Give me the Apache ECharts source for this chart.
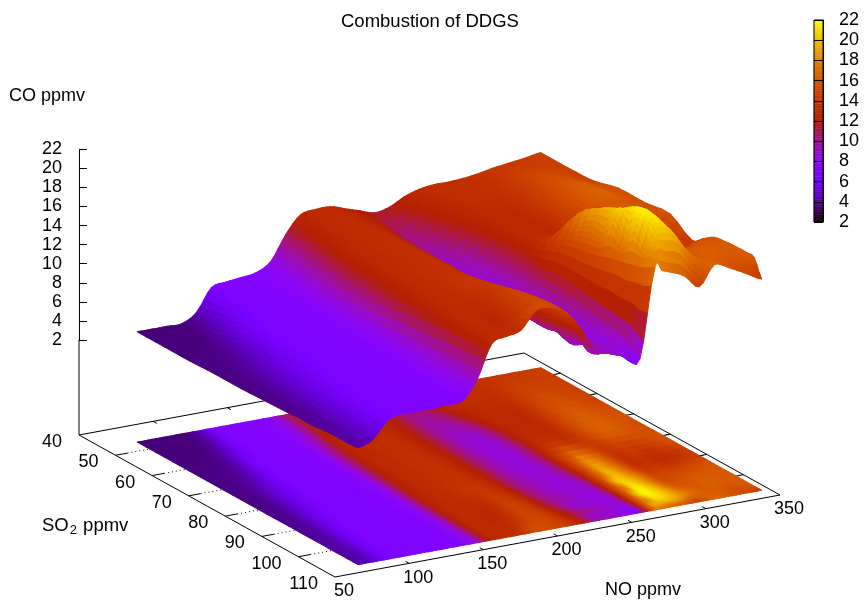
<!DOCTYPE html>
<html><head><meta charset="utf-8">
<style>html,body{margin:0;padding:0;background:#fff}#c{width:864px;height:602px}</style>
<script src="https://cdn.jsdelivr.net/npm/echarts@6/dist/echarts.min.js"></script>
</head><body><div id="c"></div>
<script>
const titleText = 'Combustion of DDGS';
const noTicks = [50,100,150,200,250,300,350];
const so2Ticks = [40,50,60,70,80,90,100,110];
const noValues = [73,83,93,103,113,123,133,143,153,163,173,183,193,203,213,223,233,243,253,263,273,278,283,293,303,313,323,333,345];
const so2Values = [46.6,54,61,68,75,82,88,91,94,97,100,103,105,107];
const co047 = [3.6,3.6,3.6,3.6,4.5,6.8,7.1,7.3,7.5,8.4,10.9,12.7,13,13,12.5,12,11.5,11.8,12.6,13.1,13.3,13.3,13.3,13.4,13.6,13.9,14.1,14.3,14.6];
const co054 = [3.6,3.6,3.6,3.9,5.2,6.9,7.1,7.2,7.5,8.8,11.4,12.8,13.1,13.1,12.6,11.8,10.6,10.5,11.6,12.7,13.2,13.3,13.3,13.3,13.8,14.6,14.8,14.7,14.6];
const co061 = [3.6,3.7,3.8,4.6,6.4,7,7.1,7.2,7.7,9.8,12.3,13,13.2,13.2,12.6,11.4,10,9.7,10.4,11.9,12.9,13,13,13,14,15.2,15.6,15.2,14.7];
const co068 = [3.7,3.8,4.2,5.3,6.8,7,7.1,7.2,7.9,10.6,12.6,13,13.3,13.3,12.6,11.2,9.6,9,9.2,11,12.8,12.9,13,12.9,14.4,15.8,16.3,15.8,15.4];
const co075 = [3.7,3.9,4.8,6,6.9,7,7.1,7.2,8,11,12.8,13.1,13.4,13.5,12.6,11,9.5,8.8,9,10.8,13,13.5,13.6,13.4,14.6,16,16.5,15.9,15.4];
const co082 = [3.8,4,5.2,6.4,7,7,7.1,7.2,8.2,11.6,12.9,13.2,13.5,13.6,12.6,10.8,9.4,8.7,9,11,14.5,16,17.5,16,13.8,14.5,14.4,15,15.7];
const co088 = [3.9,4.2,5.6,6.8,7,7,7.1,7.2,8.5,12,13,13.2,13.8,14,13,10.6,9.4,9,9,10.8,15,17.5,19.3,17,13.5,13.6,13,13.6,14.2];
const co091 = [4,4.3,5.8,6.9,7,7,7.1,7.2,8.6,12.1,13,13.1,13.4,14.2,13.3,10.6,9.6,8.8,8.8,10.4,15.3,17.5,20,17.5,14,14,13.6,14.4,15];
const co094 = [4,4.4,6,7,7,7,7.1,7.2,8.7,12.3,13,13,13.2,14.5,13.6,10.8,9.4,9,8.8,10.2,15.7,19.8,20.6,18.5,15,15,15,15.6,15.8];
const co097 = [4.1,4.5,6.2,7,7,7,7.1,7.2,8.8,12.4,13.1,12.8,13.4,14.8,13.9,11,9.8,9.2,8.7,9.9,16,18,21.4,19,15.5,15.6,16,16,16];
const co100 = [4.2,4.6,6.3,7,7,7,7.1,7.2,8.9,12.5,13.1,12.7,13.6,15,14.2,11.5,9.2,8.8,8.5,9.7,16.3,20.5,21.8,20,16.5,16,16.4,16.2,16.1];
const co103 = [4.2,4.7,6.4,7,7,7,7.1,7.2,9,12.6,13.1,13,14.2,15.2,14.4,12,10.4,9.6,9,9.4,16.6,18.5,21,20,17.8,16.3,16.3,16,16.1];
const co105 = [4.2,4.8,6.5,7,7,7,7.1,7.2,9,12.6,13.1,13.2,15,15.3,14.5,12.2,9.4,9,8.5,8.6,17,19.5,19.5,19,16.5,16.5,16.1,15.4,16];
const co107 = [4.3,4.9,6.6,7,7,7,7.1,7.2,9.1,12.6,13.1,13.5,15.3,15.3,14.5,12.5,9.9,9.4,8.8,8.2,17.4,17,16.7,16,14.6,16.6,16,15.2,14.2];
const coRows = [co047,co054,co061,co068,co075,co082,co088,co091,co094,co097,co100,co103,co105,co107];

const chart = echarts.init(document.getElementById('c'), null, {renderer:'canvas'});

function palette(v){
  const x = Math.max(0, Math.min(1, (v-2)/20));
  const r = Math.sqrt(x), g = x*x*x, b = Math.max(0, Math.sin(2*Math.PI*x));
  return 'rgb('+Math.round(r*255)+','+Math.round(g*255)+','+Math.round(b*255)+')';
}
function cr(a,b,c,d,t){
  return 0.5*((2*b)+(c-a)*t+(2*a-5*b+4*c-d)*t*t+(3*b-a-3*c+d)*t*t*t);
}
function zAt(i,j,u,v){
  const R = coRows, nr = R.length, nc = noValues.length;
  const row = (k)=>{
    const r = R[Math.max(0,Math.min(nr-1,k))];
    return cr(r[Math.max(0,j-1)], r[j], r[Math.min(nc-1,j+1)], r[Math.min(nc-1,j+2)], u);
  };
  return cr(row(i-1),row(i),row(i+1),row(i+2),v);
}
const SUBN = 4, SUBS = 3;
const cells = [];
for (let i=0;i<so2Values.length-1;i++){
  for (let j=0;j<noValues.length-1;j++){
    for (let a=0;a<SUBS;a++){
      for (let b=0;b<SUBN;b++){
        const corners = [[a,b],[a,b+1],[a+1,b+1],[a+1,b]].map(([p,q])=>{
          const v=p/SUBS,u=q/SUBN;
          return [noValues[j]+(noValues[j+1]-noValues[j])*u,
                  so2Values[i]+(so2Values[i+1]-so2Values[i])*v,
                  zAt(i,j,u,v)];
        });
        const mean = corners.reduce((s,c)=>s+c[2],0)/4;
        const key = corners.reduce((s,c)=>s+(-82/300)*c[0]+(142/70)*c[1],0);
        cells.push({corners,mean,key});
      }
    }
  }
}
cells.sort((p,q)=>p.key-q.key);
const cellData = cells.map((c,k)=>[c.corners[0][0],c.corners[0][1],k]);

const G = {left:79, top:149.3, width:300, height:190.7};
const ORIGIN = [335,577], NOVEC = [445,-82], SOVEC = [-256,-142], BASEY = 435;
let z0=null, zk=null;
function base(api,no,so){
  const p = api.coord([no,so]);
  const u=(p[0]-G.left)/G.width, v=(p[1]-G.top)/G.height;
  return [ORIGIN[0]+u*NOVEC[0]+v*SOVEC[0], ORIGIN[1]+u*NOVEC[1]+v*SOVEC[1]];
}
function lift(z){
  if(z0===null){
    z0=chart.convertToPixel({yAxisIndex:0},2);
    zk=(chart.convertToPixel({yAxisIndex:0},22)-z0)/20;
  }
  return BASEY-(z0+(z-2)*zk);
}
function polyItem(points,color){
  return {type:'polygon',shape:{points},style:{fill:color,stroke:color,lineWidth:1.1,lineJoin:'round'},silent:true};
}
const renderMap = (params,api)=>{
  const c = cells[api.value(2)];
  return polyItem(c.corners.map(q=>base(api,q[0],q[1])),palette(c.mean));
};
const renderSurface = (params,api)=>{
  const c = cells[api.value(2)];
  return polyItem(c.corners.map(q=>{
    const p=base(api,q[0],q[1]);
    return [p[0],p[1]-lift(q[2])];
  }),palette(c.mean));
};
const frame = [[50,110,350,110],[50,110,50,40],[50,40,350,40],[350,40,350,110]];
const segData = [];
frame.forEach(f=>segData.push([f[0],f[1],f[2],f[3],1]));
so2Ticks.slice(1,-1).forEach(s=>{segData.push([50,s,58,s,1]);segData.push([350,s,344,s,1]);});
noTicks.slice(1,-1).forEach(n=>{segData.push([n,110,n,109,1]);segData.push([n,40,n,41,1]);});
const renderSeg = (params,api)=>{
  const a=base(api,api.value(0),api.value(1)), b=base(api,api.value(2),api.value(3));
  return {type:'line',shape:{x1:a[0],y1:a[1],x2:b[0],y2:b[1]},style:{stroke:'#000',lineWidth:api.value(4)},silent:true};
};
const renderZExt = (params,api)=>{
  const a=base(api,api.value(0),api.value(1));
  return {type:'line',shape:{x1:a[0],y1:a[1],x2:a[0],y2:a[1]-lift(2)},style:{stroke:'#000',lineWidth:1},silent:true};
};
const dotData = so2Ticks.slice(1,-1).map(s=>[58,s,350,s]);
const renderDot = (params,api)=>{
  const a=base(api,api.value(0),api.value(1)), b=base(api,api.value(2),api.value(3));
  return {type:'line',shape:{x1:a[0],y1:a[1],x2:b[0],y2:b[1]},style:{stroke:'#000',lineWidth:1,lineDash:[1,3]},silent:true};
};
const FONT = {fontFamily:'"Liberation Sans",Arial,sans-serif',fontSize:18,fill:'#000'};
const renderSoLabel = (params,api)=>{
  const p=base(api,50,api.value(0));
  return {type:'text',style:Object.assign({},FONT,{text:String(api.value(0)),x:p[0]-17,y:p[1]+7,align:'right',verticalAlign:'middle'}),silent:true};
};
const renderNoLabel = (params,api)=>{
  const p=base(api,api.value(0),110);
  return {type:'text',style:Object.assign({},FONT,{text:String(api.value(0)),x:p[0]+9,y:p[1]+14.5,align:'center',verticalAlign:'middle'}),silent:true};
};
const barLevels=[];
for(let v=2;v<22;v+=0.25) barLevels.push([v,v+0.25]);
const renderBar=(params,api)=>{
  const a=api.coord([0,api.value(0)]), b=api.coord([1,api.value(1)]);
  const col=palette((api.value(0)+api.value(1))/2);
  return {type:'rect',shape:{x:a[0],y:b[1],width:b[0]-a[0],height:a[1]-b[1]},style:{fill:col,stroke:col,lineWidth:0.5},silent:true};
};
const renderBarFrame=(params,api)=>{
  const a=api.coord([0,2]), b=api.coord([1,22]);
  return {type:'rect',shape:{x:a[0],y:b[1],width:b[0]-a[0],height:a[1]-b[1]},style:{fill:'none',stroke:'#000',lineWidth:1},silent:true};
};
const common = {type:'custom',coordinateSystem:'cartesian2d',xAxisIndex:0,yAxisIndex:1,animation:false,silent:true,progressive:0,clip:false};
const LF='"Liberation Sans",Arial,sans-serif';
chart.setOption({
  animation:false,
  backgroundColor:'#fff',
  textStyle:{fontFamily:LF},
  title:{text:titleText,left:336,top:7,textStyle:{fontSize:18.5,fontWeight:'normal',color:'#000',fontFamily:LF}},
  grid:[
    {left:G.left,top:G.top,width:G.width,height:G.height,containLabel:false},
    {left:814,top:20,width:9,height:202,containLabel:false}
  ],
  xAxis:[
    {type:'value',gridIndex:0,min:50,max:350,show:false},
    {type:'value',gridIndex:1,min:0,max:1,show:false}
  ],
  yAxis:[
    {type:'value',gridIndex:0,min:2,max:22,interval:2,position:'left',z:1,
     axisLine:{show:true,onZero:false,lineStyle:{color:'#000',width:1}},
     axisTick:{show:true,inside:true,length:8,lineStyle:{color:'#000'}},
     axisLabel:{show:true,margin:17,color:'#000',fontSize:18,fontFamily:LF,hideOverlap:false},
     splitLine:{show:false}},
    {type:'value',gridIndex:0,min:40,max:110,show:false},
    {type:'value',gridIndex:1,min:2,max:22,interval:2,position:'right',z:5,
     axisLine:{show:true,onZero:false,lineStyle:{color:'#000',width:1}},
     axisTick:{show:true,inside:true,length:9,lineStyle:{color:'#000',width:1}},
     axisLabel:{show:true,margin:16,color:'#000',fontSize:18,fontFamily:LF,hideOverlap:false,padding:[2,0,0,0]},
     splitLine:{show:false}}
  ],
  graphic:[
    {type:'text',left:9,top:87,style:{text:'CO ppmv',font:'18px "Liberation Sans",Arial,sans-serif',fill:'#000'}},
    {type:'text',left:605,top:581,style:{text:'NO ppmv',font:'18px "Liberation Sans",Arial,sans-serif',fill:'#000'}},
    {type:'text',left:42,top:516,style:{text:'{a|SO}{b|2}{a| ppmv}',rich:{a:{fontSize:18.5,fontFamily:LF,fill:'#000'},b:{fontSize:13,fontFamily:LF,fill:'#000',verticalAlign:'bottom',padding:[9,1,0,1]}}}}
  ],
  series:[
    Object.assign({},common,{name:'grid',renderItem:renderDot,data:dotData,z:2}),
    Object.assign({},common,{name:'frame',renderItem:renderSeg,data:segData,z:2}),
    Object.assign({},common,{name:'z axis base',renderItem:renderZExt,data:[[50,40]],z:2}),
    Object.assign({},common,{name:'SO2 labels',renderItem:renderSoLabel,data:so2Ticks.map(s=>[s,s]),encode:{x:0,y:1},z:2}),
    Object.assign({},common,{name:'NO labels',renderItem:renderNoLabel,data:noTicks.map(n=>[n,n]),encode:{x:0,y:1},z:2}),
    Object.assign({},common,{name:'map',renderItem:renderMap,data:cellData,z:3}),
    Object.assign({},common,{name:'surface',renderItem:renderSurface,data:cellData,z:3}),
    Object.assign({},common,{name:'colorbar',xAxisIndex:1,yAxisIndex:2,renderItem:renderBar,data:barLevels,z:3}),
    Object.assign({},common,{name:'colorbar frame',xAxisIndex:1,yAxisIndex:2,renderItem:renderBarFrame,data:[[0,2]],z:4})
  ]
});
</script></body></html>
